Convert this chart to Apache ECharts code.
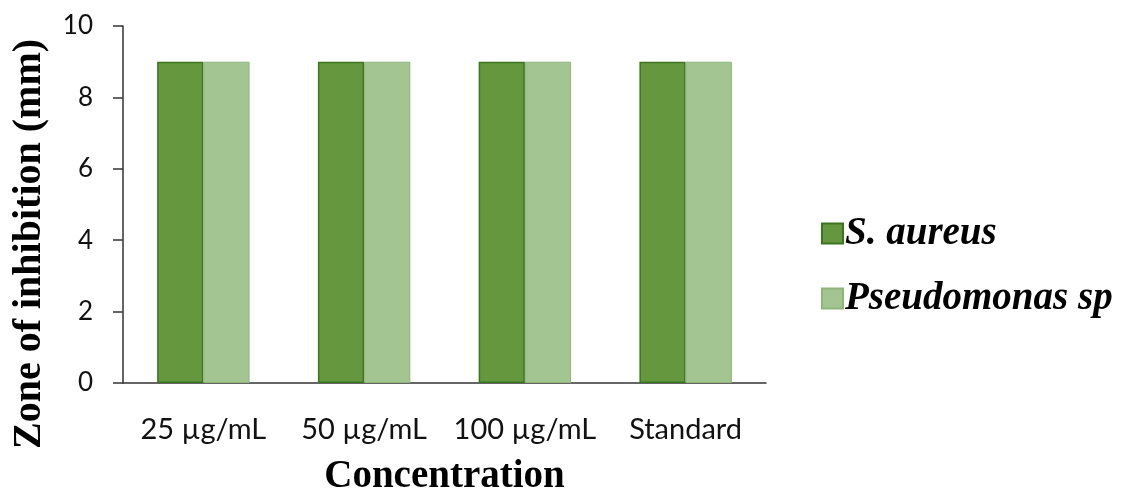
<!DOCTYPE html>
<html><head><meta charset="utf-8">
<script src="https://cdn.jsdelivr.net/npm/echarts@6/dist/echarts.min.js"></script>
<style>html,body{margin:0;padding:0;background:#fff}#c{width:1121px;height:493px}</style>
</head><body><div id="c"></div>
<script>
var categories = ['25 µg/mL', '50 µg/mL', '100 µg/mL', 'Standard'];
var sAureus = [9, 9, 9, 9];
var pseudomonas = [9, 9, 9, 9];
var seriesNames = ['S. aureus', 'Pseudomonas sp'];
var yTitle = 'Zone of inhibition (mm)';

var chart = echarts.init(document.getElementById('c'));
chart.setOption({
  animation: false,
  backgroundColor: '#fff',
  grid: {left: 123, right: 355, top: 26, bottom: 110, outerBoundsMode: 'none', containLabel: false},
  legend: {
    orient: 'vertical', left: 816, top: 209, itemGap: 26,
    itemWidth: 21, itemHeight: 20, icon: 'rect',
    textStyle: {fontFamily: 'Liberation Serif', fontStyle: 'italic', fontWeight: 'bold', fontSize: 39, color: '#000', padding: [0,0,0,-3]},
    data: seriesNames
  },
  graphic: [{
    type: 'text', x: 30, y: 244, rotation: Math.PI / 2,
    style: {text: yTitle, fontFamily: 'Liberation Serif', fontWeight: 'bold', fontSize: 40, fill: '#000',
            textAlign: 'center', textVerticalAlign: 'middle'}
  }],
  xAxis: {
    type: 'category', data: categories,
    name: 'Concentration', nameLocation: 'middle', nameGap: 74,
    nameTextStyle: {fontFamily: 'Liberation Serif', fontWeight: 'bold', fontSize: 39, color: '#000'},
    axisLine: {lineStyle: {color: '#333', width: 1.5}},
    axisTick: {show: false},
    axisLabel: {fontFamily: 'Lato', fontSize: 29, color: '#111', margin: 32, interval: 0, hideOverlap: false}
  },
  yAxis: {
    type: 'value', min: 0, max: 10, interval: 2,
    axisLine: {show: true, lineStyle: {color: '#333', width: 1.5}},
    axisTick: {show: true, length: 10, lineStyle: {color: '#333', width: 1.5}},
    splitLine: {show: false},
    axisLabel: {fontFamily: 'Lato', fontSize: 26, color: '#111', margin: 30}
  },
  series: [
    {name: seriesNames[0], type: 'bar', data: sAureus, barGap: '0%', barCategoryGap: '42.5%',
     itemStyle: {color: '#65983e', borderColor: '#3c7420', borderWidth: 1.5}},
    {name: seriesNames[1], type: 'bar', data: pseudomonas,
     itemStyle: {color: '#a3c591', borderColor: '#8fb57b', borderWidth: 1}}
  ]
});
</script></body></html>
